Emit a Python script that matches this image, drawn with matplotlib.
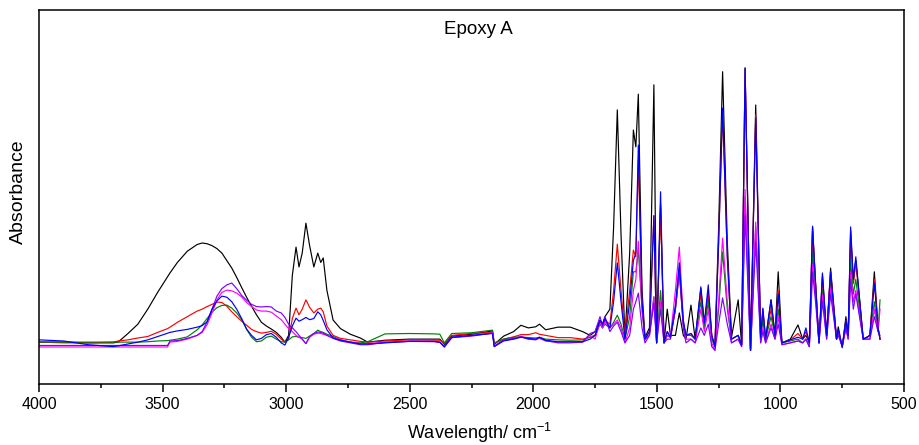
import matplotlib
matplotlib.use("Agg")
import matplotlib.pyplot as plt
from matplotlib.ticker import MultipleLocator

plt.rcParams['font.family'] = ['Liberation Sans', 'DejaVu Sans']
plt.rcParams['mathtext.fontset'] = 'custom'
plt.rcParams['mathtext.rm'] = 'Liberation Sans'
plt.rcParams['mathtext.it'] = 'Liberation Sans:italic'

# Wavenumber sampling (cm^-1), high to low
wavenumber = [
    4000, 3900, 3800, 3700, 3680, 3640, 3600, 3560, 3520, 3480, 3470, 3440, 3400, 3360, 3340, 3320,
    3300, 3280, 3260, 3240, 3220, 3200, 3180, 3160, 3140, 3120, 3100, 3080, 3060, 3040, 3020, 3005,
    2990, 2975, 2960, 2948, 2935, 2920, 2905, 2888, 2872, 2860, 2850, 2835, 2810, 2780, 2740, 2700, 2670,
    2600, 2500, 2400, 2378, 2360, 2330, 2250, 2165, 2158, 2120, 2080, 2050, 2020, 1990, 1975, 1950,
    1900, 1850, 1800, 1770,
    1750, 1730, 1720, 1710, 1690, 1675, 1660, 1645, 1629, 1610,
    1595, 1585, 1575, 1560, 1548, 1530, 1512, 1501, 1485, 1471,
    1458, 1445, 1425, 1409, 1393, 1382, 1362, 1345, 1322, 1308,
    1292, 1278, 1265, 1250, 1234, 1215, 1198, 1171, 1157, 1143,
    1121, 1100, 1080, 1071, 1060, 1038, 1022, 1009, 994, 960,
    929, 910, 897, 883, 870, 858, 844, 830, 813, 797,
    773, 766, 750, 735, 726, 716, 705, 695, 665, 650,
    638, 620, 605, 597,
]

# Absorbance of the six samples (arbitrary units)
abs_black = [
    .112, .112, .110, .110, .112, .135, .160, .200, .245, .287, .297, .325, .355, .373, .377, .375,
    .370, .362, .350, .330, .310, .285, .258, .232, .208, .185, .165, .155, .147, .138, .125, .112,
    .130, .290, .366, .313, .350, .430, .370, .313, .350, .325, .337, .250, .171, .148, .133, .123, .112,
    .117, .120, .120, .120, .106, .128, .133, .142, .106, .128, .140, .157, .150, .153, .160, .145,
    .152, .152, .140, .130,
    .140, .170, .160, .180, .200, .420, .733, .400, .125, .350,
    .679, .634, .775, .250, .125, .150, .800, .110, .480, .110,
    .200, .130, .130, .190, .130, .120, .211, .120, .255, .160,
    .245, .130, .100, .420, .835, .380, .125, .225, .105, .845,
    .090, .746, .125, .190, .120, .225, .130, .300, .110, .120,
    .158, .120, .130, .110, .420, .270, .110, .290, .130, .310,
    .120, .153, .097, .180, .130, .410, .270, .330, .120, .125,
    .130, .300, .150, .120,
]
abs_red = [
    .112, .110, .110, .112, .115, .118, .123, .127, .138, .148, .152, .165, .180, .195, .200, .207,
    .213, .219, .218, .208, .193, .180, .168, .157, .146, .140, .136, .138, .141, .133, .120, .112,
    .120, .175, .203, .185, .200, .225, .205, .190, .200, .203, .193, .155, .130, .122, .118, .114, .112,
    .115, .118, .117, .117, .108, .130, .135, .138, .108, .120, .126, .132, .132, .137, .133, .130,
    .124, .124, .120, .125,
    .130, .165, .150, .170, .160, .250, .374, .250, .130, .250,
    .358, .340, .600, .220, .120, .140, .450, .110, .470, .110,
    .140, .125, .200, .300, .160, .130, .135, .120, .240, .160,
    .240, .130, .100, .380, .730, .340, .120, .130, .105, .840,
    .090, .720, .125, .200, .120, .200, .130, .250, .110, .118,
    .135, .120, .140, .110, .410, .270, .110, .280, .130, .300,
    .120, .140, .100, .170, .130, .400, .270, .330, .120, .125,
    .130, .280, .150, .120,
]
abs_blue = [
    .118, .115, .105, .100, .102, .107, .112, .118, .127, .136, .138, .142, .146, .152, .156, .166,
    .200, .222, .235, .232, .220, .200, .175, .147, .130, .118, .122, .132, .135, .125, .110, .104,
    .125, .155, .176, .168, .172, .178, .172, .175, .193, .185, .170, .145, .123, .117, .112, .107, .107,
    .110, .114, .114, .112, .100, .125, .130, .135, .100, .115, .120, .125, .122, .120, .125, .117,
    .113, .113, .113, .120,
    .130, .170, .160, .175, .150, .220, .324, .220, .120, .220,
    .330, .350, .639, .220, .120, .140, .450, .110, .514, .110,
    .140, .125, .210, .324, .170, .130, .135, .120, .260, .163,
    .265, .130, .100, .380, .738, .340, .120, .130, .105, .845,
    .090, .711, .125, .203, .120, .225, .130, .240, .110, .118,
    .125, .120, .150, .110, .422, .270, .110, .297, .130, .300,
    .120, .145, .100, .170, .130, .420, .280, .340, .120, .125,
    .130, .270, .150, .120,
]
abs_green = [
    .112, .112, .112, .112, .112, .112, .112, .113, .115, .116, .117, .120, .126, .145, .158, .175,
    .192, .204, .210, .211, .203, .190, .172, .146, .125, .113, .115, .125, .128, .120, .113, .112,
    .118, .126, .127, .125, .124, .122, .128, .135, .144, .140, .138, .133, .127, .118, .112, .110, .113,
    .134, .135, .134, .133, .110, .135, .137, .144, .110, .120, .125, .126, .124, .123, .125, .120,
    .118, .117, .118, .125,
    .130, .160, .150, .160, .150, .165, .184, .160, .120, .180,
    .300, .300, .358, .200, .120, .130, .233, .110, .250, .110,
    .130, .125, .200, .310, .160, .130, .130, .120, .220, .150,
    .220, .120, .100, .200, .353, .200, .120, .130, .105, .500,
    .090, .420, .120, .170, .120, .180, .130, .200, .110, .115,
    .120, .110, .120, .100, .350, .250, .110, .250, .130, .270,
    .120, .140, .100, .160, .130, .330, .240, .280, .120, .125,
    .130, .220, .140, .225,
]
abs_magenta = [
    .099, .099, .099, .099, .099, .099, .099, .099, .099, .099, .112, .114, .120, .130, .138, .158,
    .190, .225, .245, .251, .249, .243, .233, .218, .207, .198, .195, .195, .192, .182, .172, .160,
    .148, .140, .130, .125, .120, .108, .125, .133, .136, .135, .133, .130, .124, .118, .112, .108, .108,
    .112, .115, .114, .112, .098, .124, .130, .137, .102, .117, .120, .128, .120, .120, .122, .115,
    .112, .112, .113, .130,
    .120, .165, .150, .165, .150, .160, .171, .150, .110, .150,
    .250, .280, .382, .200, .120, .130, .233, .110, .220, .110,
    .130, .125, .250, .366, .170, .120, .120, .110, .200, .140,
    .200, .110, .090, .220, .390, .220, .110, .120, .100, .520,
    .090, .433, .110, .150, .110, .160, .120, .180, .105, .110,
    .115, .110, .120, .100, .320, .240, .110, .240, .120, .260,
    .120, .140, .100, .150, .120, .300, .220, .250, .120, .120,
    .120, .200, .140, .200,
]
abs_violet = [
    .103, .103, .103, .103, .103, .103, .103, .103, .103, .103, .115, .116, .122, .130, .140, .166,
    .200, .235, .255, .265, .270, .255, .237, .224, .213, .207, .206, .207, .206, .195, .190, .178,
    .160, .150, .140, .130, .120, .108, .127, .135, .139, .138, .136, .130, .122, .115, .110, .105, .105,
    .111, .114, .113, .111, .100, .124, .128, .136, .100, .118, .122, .126, .120, .118, .124, .116,
    .110, .110, .112, .135,
    .140, .180, .155, .180, .140, .155, .165, .140, .110, .130,
    .200, .220, .243, .150, .110, .130, .216, .110, .200, .110,
    .120, .120, .200, .300, .150, .110, .120, .110, .150, .130,
    .160, .100, .090, .160, .230, .160, .110, .120, .100, .450,
    .090, .380, .110, .140, .110, .150, .120, .160, .105, .110,
    .115, .110, .120, .100, .300, .220, .110, .220, .120, .240,
    .120, .130, .100, .150, .120, .280, .200, .240, .120, .120,
    .120, .180, .140, .130,
]

series = [
    (abs_black, '#000000'),
    (abs_red, '#ff0000'),
    (abs_green, '#008000'),
    (abs_magenta, '#ff00ff'),
    (abs_violet, '#8000ff'),
    (abs_blue, '#0000ff'),
]

fig = plt.figure(figsize=(9.19, 4.45), dpi=100)
ax = fig.add_axes([39 / 919, 61 / 445, 865 / 919, 374 / 445])

for values, color in series:
    ax.plot(wavenumber, values, color=color, lw=0.85)

ax.set_xlim(4000, 500)
ax.set_ylim(0, 1)
ax.set_yticks([])
ax.xaxis.set_major_locator(MultipleLocator(500))
ax.xaxis.set_minor_locator(MultipleLocator(250))
ax.tick_params(axis='x', which='major', direction='out', length=5.5, width=1.1,
               labelsize=11.5, pad=4)
ax.tick_params(axis='x', which='minor', direction='out', length=3, width=1.1)
for sp in ax.spines.values():
    sp.set_linewidth(1.1)

ax.set_xlabel('Wavelength/ cm$^{-1}$', fontsize=13, va='center')
ax.xaxis.set_label_coords((479 - 39) / 865, -(433 - 384) / 374)
ax.set_ylabel('Absorbance', fontsize=14, va='center')
ax.yaxis.set_label_coords((18 - 39) / 865, (384 - 192) / 374)

ax.text((478 - 39) / 865, (384 - 30) / 374, 'Epoxy A', transform=ax.transAxes,
        ha='center', va='center', fontsize=13.5)

fig.savefig('out.png', dpi=100)
